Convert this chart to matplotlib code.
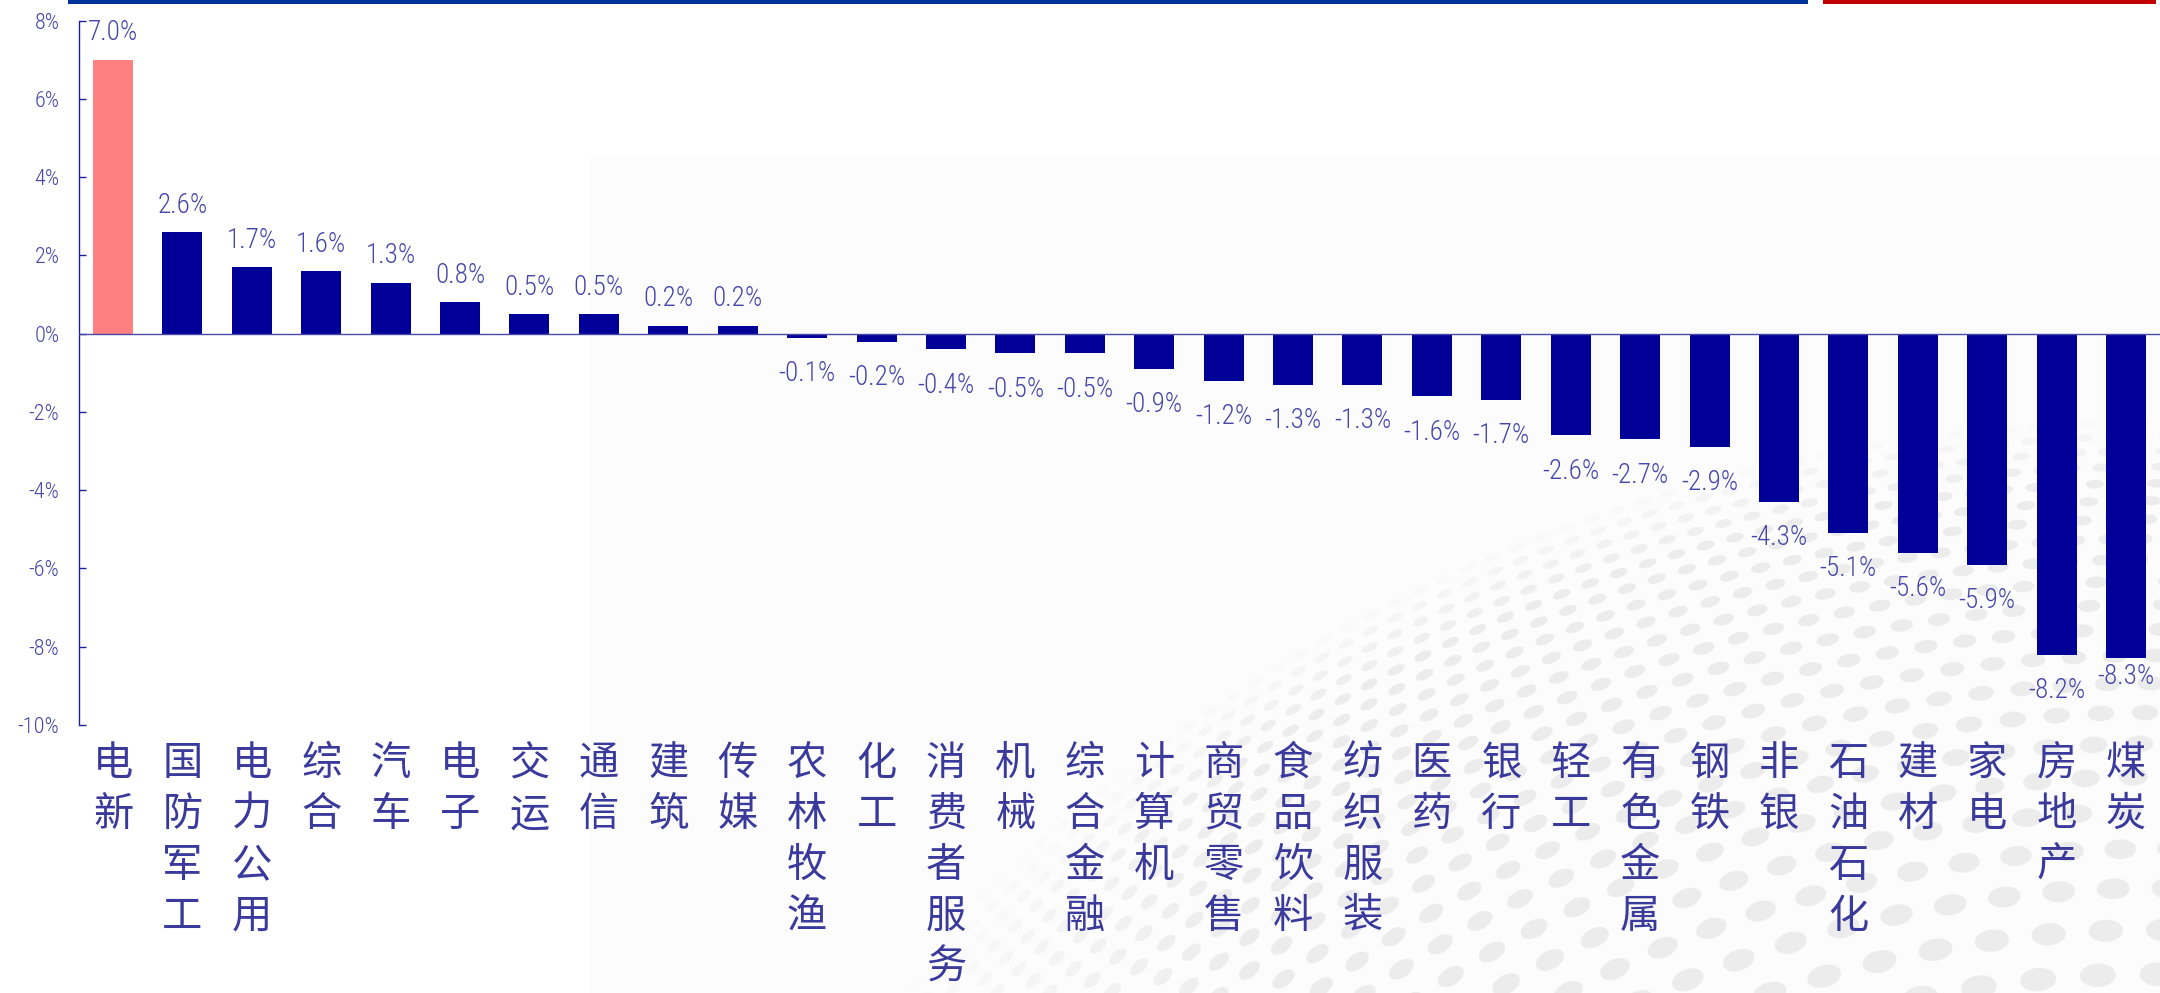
import matplotlib
matplotlib.use('Agg')
import matplotlib.pyplot as plt
from matplotlib.patches import Ellipse, Rectangle
import numpy as np
import logging
logging.getLogger('matplotlib.font_manager').setLevel(logging.ERROR)

# ---------------- data ----------------
categories = ['电新', '国防军工', '电力公用', '综合', '汽车', '电子', '交运', '通信', '建筑', '传媒',
              '农林牧渔', '化工', '消费者服务', '机械', '综合金融', '计算机', '商贸零售', '食品饮料',
              '纺织服装', '医药', '银行', '轻工', '有色金属', '钢铁', '非银', '石油石化', '建材',
              '家电', '房地产', '煤炭']
returns = [7.0, 2.6, 1.7, 1.6, 1.3, 0.8, 0.5, 0.5, 0.2, 0.2,
           -0.1, -0.2, -0.4, -0.5, -0.5, -0.9, -1.2, -1.3, -1.3, -1.6,
           -1.7, -2.6, -2.7, -2.9, -4.3, -5.1, -5.6, -5.9, -8.2, -8.3]
yticks = [8, 6, 4, 2, 0, -2, -4, -6, -8, -10]
ytick_labels = ['8%', '6%', '4%', '2%', '0%', '-2%', '-4%', '-6%', '-8%', '-10%']
highlight = '电新'

# ---------------- style ----------------
W, H = 2160, 993
NAVY = '#000099'
PINK = '#ff8080'
TXT = '#4646aa'
AXC = '#1f1f99'
NUMFONT = ['Liberation Sans Narrow', 'Arial Narrow', 'Roboto Condensed', 'Archivo Narrow',
           'Liberation Sans', 'DejaVu Sans']
CJKFONT = ['Noto Sans CJK SC', 'DejaVu Sans']

fig = plt.figure(figsize=(W / 100, H / 100), dpi=100)
fig.patch.set_facecolor('white')

# ---------------- background decoration ----------------
bg = fig.add_axes([0, 0, 1, 1], zorder=0)
bg.set_xlim(0, W)
bg.set_ylim(H, 0)
bg.axis('off')
bg.add_patch(Rectangle((590, 158), W - 590, H - 158, color='#fcfcfc', lw=0))
# top rule lines
bg.add_patch(Rectangle((68, 0), 1808 - 68, 3.5, color='#003399', lw=0))
bg.add_patch(Rectangle((1823, 0), 2156 - 1823, 3.5, color='#c00000', lw=0))

# dotted globe-like watermark
cx, cy = 2150.0, 2100.0
r_out = 1690.0
r = r_out
while r > 880:
    rs = 13 + 0.06 * (r_out - r)
    d = 26 + 0.06 * (r_out - r)
    t = -0.06
    while t < 1.2:
        px = cx - r * np.sin(t)
        py = cy - r * np.cos(t)
        if 860 < px < W + 20 and 170 < py < H + 20:
            fade = np.clip((r_out - r) / 70.0, 0, 1) * np.clip((px - 860) / 400.0, 0, 1)
            a = 0.45 * fade
            if a > 0.02:
                bg.add_patch(Ellipse((px, py), 0.6 * d, 0.5 * rs, angle=-np.degrees(t),
                                     facecolor='#d9d9d9', edgecolor='none', alpha=a))
        t += d / r
    r -= rs

# ---------------- main chart ----------------
left = 79 / W
bottom = 1 - 725 / H
top = 1 - 20.7 / H
ax = fig.add_axes([left, bottom, 1 - left, top - bottom], zorder=1)
ax.patch.set_alpha(0)

x = np.arange(len(categories))
colors = [PINK if c == highlight else NAVY for c in categories]
ax.bar(x, returns, width=0.576, color=colors, zorder=3)
ax.axhline(0, color='#4a4aa8', lw=1.0, zorder=4)

ax.set_xlim(-0.49, len(categories) - 1 + 0.49)
ax.set_ylim(-10, 8)
ax.set_yticks(yticks)
ax.set_yticklabels(ytick_labels, fontfamily=NUMFONT, fontweight='light')
for s in ['top', 'right', 'bottom']:
    ax.spines[s].set_visible(False)
ax.spines['left'].set_color(AXC)
ax.spines['left'].set_linewidth(1.0)
ax.tick_params(axis='y', direction='in', length=5, width=1, color=AXC,
               labelcolor=TXT, labelsize=16, pad=14)

ax.set_xticks(x)
ax.set_xticklabels(['\n'.join(c) for c in categories], fontfamily=CJKFONT,
                   fontsize=29, color='#3a3a9c', linespacing=1.31, va='top')
ax.tick_params(axis='x', length=0, pad=13)

label_nudge = {len(categories) - 1: 13}
for i, v in enumerate(returns):
    off = 14 if v >= 0 else -16
    off += label_nudge.get(i, 0)
    ax.annotate(f'{v:.1f}%', (i, v), xytext=(0, off), textcoords='offset points',
                ha='center', va='baseline' if v >= 0 else 'top',
                fontsize=19.5, color=TXT, fontfamily=NUMFONT, fontweight='light', zorder=5)

fig.savefig('out.png', dpi=100, facecolor='white')
